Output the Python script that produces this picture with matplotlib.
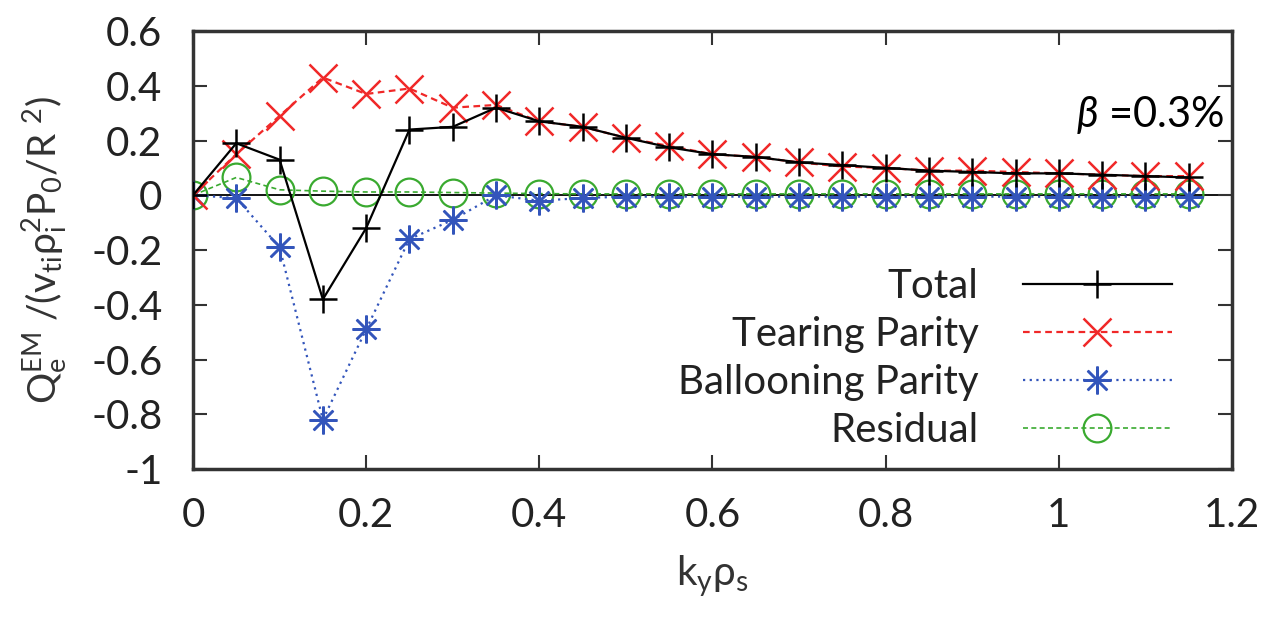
import numpy as np
import matplotlib
matplotlib.use('Agg')
import matplotlib.pyplot as plt
from matplotlib.ticker import FuncFormatter

plt.rcParams['font.family'] = ['Lato', 'DejaVu Sans']
plt.rcParams['mathtext.fontset'] = 'custom'
plt.rcParams['mathtext.rm'] = 'Lato'
plt.rcParams['mathtext.it'] = 'Lato:italic'
plt.rcParams['mathtext.fallback'] = 'stixsans'
plt.rcParams['axes.unicode_minus'] = False

# data
ky = [0.0, 0.05, 0.1, 0.15, 0.2, 0.25, 0.3, 0.35, 0.4, 0.45, 0.5, 0.55,
      0.6, 0.65, 0.7, 0.75, 0.8, 0.85, 0.9, 0.95, 1.0, 1.05, 1.1, 1.15]
total = [0.0, 0.19, 0.13, -0.38, -0.12, 0.24, 0.25, 0.32, 0.27, 0.25, 0.21, 0.175,
         0.15, 0.14, 0.12, 0.11, 0.10, 0.09, 0.085, 0.08, 0.08, 0.075, 0.07, 0.065]
tearing = [0.0, 0.15, 0.29, 0.43, 0.37, 0.39, 0.32, 0.33, 0.27, 0.25, 0.21, 0.18,
           0.15, 0.14, 0.12, 0.105, 0.10, 0.09, 0.09, 0.085, 0.08, 0.075, 0.07, 0.07]
balloon = [0.0, -0.01, -0.19, -0.82, -0.49, -0.16, -0.09, 0.0, -0.02, -0.01, -0.005, -0.005,
           -0.005, -0.005, -0.005, -0.005, -0.005, -0.005, -0.005, -0.005, -0.005, -0.005, -0.005, -0.005]
resid = [0.0, 0.065, 0.02, 0.015, 0.012, 0.012, 0.01, 0.008, 0.006, 0.005, 0.005, 0.005,
         0.005, 0.005, 0.005, 0.005, 0.005, 0.005, 0.005, 0.005, 0.005, 0.005, 0.005, 0.005]

xticks = [0, 0.2, 0.4, 0.6, 0.8, 1.0, 1.2]
yticks = [-1, -0.8, -0.6, -0.4, -0.2, 0, 0.2, 0.4, 0.6]

fig = plt.figure(figsize=(12.73, 6.18), dpi=100)
ax = fig.add_axes([0.1516, 0.2411, 0.8162, 0.7087])

ax.axhline(0, color='black', lw=1.3, zorder=1)

ms = 20
ax.plot(ky, total, color='black', lw=1.6, marker='+', ms=ms, mew=1.8, label='Total', zorder=5)
ax.plot(ky, tearing, color='#f02828', lw=1.6, ls=(0, (3, 2)), marker='x', ms=ms, mew=1.8,
        label='Tearing Parity', zorder=4)
ax.plot(ky, balloon, color='#3355bb', lw=1.6, ls=(0, (1, 2)), marker=(8, 2, 0), ms=ms, mew=1.8,
        label='Ballooning Parity', zorder=3)
ax.plot(ky, resid, color='#3aaa30', lw=1.2, ls=(0, (3, 2)), marker='o', ms=ms, mew=1.6,
        mfc='none', label='Residual', zorder=2)

ax.set_xlim(0, 1.2)
ax.set_ylim(-1, 0.6)
ax.set_xticks(xticks)
ax.set_yticks(yticks)
fmt = FuncFormatter(lambda v, p: '%g' % round(v, 2))
ax.xaxis.set_major_formatter(fmt)
ax.yaxis.set_major_formatter(fmt)
ax.tick_params(direction='in', length=10, width=1.5, top=True, right=True,
               labelsize=29, colors='#333333', labelcolor='#222222')
ax.tick_params(axis='y', pad=22)
ax.tick_params(axis='x', pad=20)
for s in ax.spines.values():
    s.set_linewidth(2.5)
    s.set_color('#333333')

ax.set_xlabel(r'k$_\mathregular{y}$ρ$_\mathregular{s}$', fontsize=29, color='#333333', labelpad=14)
ax.set_ylabel(r'Q$_\mathregular{e}^\mathregular{EM}$ /(v$_\mathregular{ti}$ρ$_\mathregular{i}^\mathregular{2}$P$_\mathregular{0}$/R $^\mathregular{2}$)',
              fontsize=28, color='#333333', labelpad=16)

leg = ax.legend(loc='upper right', bbox_to_anchor=(1172 / 1273, 1 - 268 / 618),
                bbox_transform=fig.transFigure, frameon=False, markerfirst=False,
                fontsize=29, handlelength=3.7, handletextpad=1.1, labelspacing=0.27,
                borderpad=0, borderaxespad=0)
for t in leg.get_texts():
    t.set_ha('right')
    t.set_color('#222222')
leg._legend_box.align = 'right'

fig.text(1224 / 1273, 1 - 127 / 618, r'$\it{\beta}$ =0.3%', fontsize=30, ha='right',
         va='baseline', color='black')

plt.savefig('out.png', dpi=100)
